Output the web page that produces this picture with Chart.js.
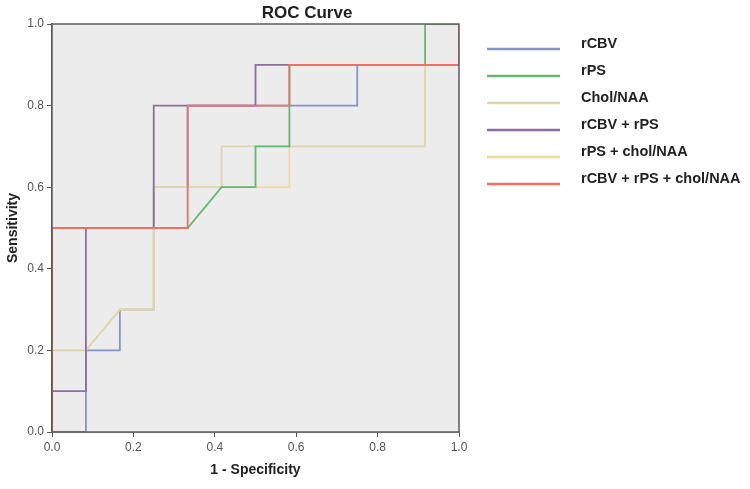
<!DOCTYPE html>
<html>
<head>
<meta charset="utf-8">
<script src="https://cdn.jsdelivr.net/npm/chart.js@4/dist/chart.umd.min.js"></script>
<style>
  html, body { margin: 0; padding: 0; background: #fff; }
  #wrap { width: 750px; height: 489px; }
</style>
</head>
<body>
<div id="wrap"><canvas id="roc" width="750" height="489"></canvas></div>
<script>
// series labels and colours
const names = ['rCBV', 'rPS', 'Chol/NAA', 'rCBV + rPS', 'rPS + chol/NAA', 'rCBV + rPS + chol/NAA']
const colors = ['#8593c8', '#66b772', '#ddd5b4', '#8c6d9f', '#efdc92', '#ef6f62']

// step points (1 - specificity, sensitivity)
const rcbvX = [0, 0.0833, 0.0833, 0.1667, 0.1667, 0.25, 0.25, 0.3333, 0.3333, 0.75, 0.75, 1, 1]
const rcbvY = [0, 0, 0.2, 0.2, 0.3, 0.3, 0.6, 0.6, 0.8, 0.8, 0.9, 0.9, 1]
const rpsX = [0, 0, 0.3333, 0.4167, 0.5, 0.5, 0.5833, 0.5833, 0.9167, 0.9167, 1]
const rpsY = [0, 0.5, 0.5, 0.6, 0.6, 0.7, 0.7, 0.9, 0.9, 1, 1]
const cholX = [0, 0, 0.0833, 0.1667, 0.25, 0.25, 0.4167, 0.4167, 0.9167, 0.9167, 1, 1]
const cholY = [0, 0.2, 0.2, 0.3, 0.3, 0.6, 0.6, 0.7, 0.7, 0.9, 0.9, 1]
const cbvPsX = [0, 0, 0.0833, 0.0833, 0.25, 0.25, 0.5, 0.5, 1, 1]
const cbvPsY = [0, 0.1, 0.1, 0.5, 0.5, 0.8, 0.8, 0.9, 0.9, 1]
const psCholX = [0, 0, 0.0833, 0.1667, 0.25, 0.25, 0.5833, 0.5833, 0.9167, 0.9167, 1, 1]
const psCholY = [0, 0.2, 0.2, 0.3, 0.3, 0.6, 0.6, 0.7, 0.7, 0.9, 0.9, 1]
const allX = [0, 0, 0.3333, 0.3333, 0.5833, 0.5833, 1, 1]
const allY = [0, 0.5, 0.5, 0.8, 0.8, 0.9, 0.9, 1]

const xTicks = [0, 0.2, 0.4, 0.6, 0.8, 1]
const yTicks = [0, 0.2, 0.4, 0.6, 0.8, 1]

const seriesX = [rcbvX, rpsX, cholX, cbvPsX, psCholX, allX]
const seriesY = [rcbvY, rpsY, cholY, cbvPsY, psCholY, allY]

// draw order: green sits above the pale lines, red on top of all
const drawOrder = [6, 2, 4, 3, 5, 1]

const datasets = names.map((name, i) => ({
  label: name,
  data: seriesX[i].map((x, j) => ({ x: x, y: seriesY[i][j] })),
  borderColor: colors[i],
  borderWidth: 1.8,
  showLine: true,
  pointRadius: 0,
  order: drawOrder[i]
}))

const frame = {
  id: 'frame',
  beforeDatasetsDraw (chart) {
    const { ctx, chartArea: a } = chart
    ctx.save()
    ctx.fillStyle = '#ececec'
    ctx.fillRect(a.left, a.top, a.right - a.left, a.bottom - a.top)
    ctx.restore()
  },
  afterDraw (chart) {
    const { ctx, chartArea: a } = chart
    ctx.save()
    ctx.strokeStyle = '#5c5c5c'
    ctx.lineWidth = 1.5
    ctx.strokeRect(a.left, a.top, a.right - a.left, a.bottom - a.top)

    ctx.fillStyle = '#222'
    ctx.font = 'bold 17px "Liberation Sans", Arial, sans-serif'
    ctx.textAlign = 'center'
    ctx.textBaseline = 'middle'
    ctx.fillText('ROC Curve', 307, 13)

    // legend
    ctx.font = 'bold 14.5px "Liberation Sans", Arial, sans-serif'
    ctx.textAlign = 'left'
    names.forEach((name, i) => {
      const y = 49 + i * 27
      ctx.strokeStyle = colors[i]
      ctx.lineWidth = 2.5
      ctx.beginPath()
      ctx.moveTo(487, y)
      ctx.lineTo(560, y)
      ctx.stroke()
      ctx.fillStyle = '#222'
      ctx.fillText(name, 581, y - 5)
    })
    ctx.restore()
  }
}

new Chart(document.getElementById('roc'), {
  type: 'scatter',
  data: { datasets: datasets },
  options: {
    animation: false,
    responsive: false,
    layout: { padding: { top: 24, right: 291, left: 0, bottom: 0 } },
    plugins: {
      legend: { display: false },
      tooltip: { enabled: false }
    },
    scales: {
      x: {
        type: 'linear',
        min: 0,
        max: 1,
        afterFit (scale) { scale.height = 57 },
        afterBuildTicks (scale) { scale.ticks = xTicks.map(v => ({ value: v })) },
        ticks: {
          color: '#555',
          font: { size: 12, family: 'Liberation Sans' },
          padding: 3,
          maxRotation: 0,
          callback: v => v.toFixed(1)
        },
        grid: { drawOnChartArea: false, drawTicks: true, tickLength: 5, tickColor: '#555' },
        border: { color: '#555', width: 1.5 },
        title: {
          display: true,
          text: '1 - Specificity',
          color: '#222',
          font: { size: 14, weight: 'bold', family: 'Liberation Sans' },
          padding: { top: 0, bottom: 10 }
        }
      },
      y: {
        type: 'linear',
        min: 0,
        max: 1,
        afterFit (scale) { scale.width = 52 },
        afterBuildTicks (scale) { scale.ticks = yTicks.map(v => ({ value: v })) },
        ticks: {
          color: '#555',
          font: { size: 12, family: 'Liberation Sans' },
          padding: 3,
          callback: v => v.toFixed(1)
        },
        grid: { drawOnChartArea: false, drawTicks: true, tickLength: 5, tickColor: '#555' },
        border: { color: '#555', width: 1.5 },
        title: {
          display: true,
          text: 'Sensitivity',
          color: '#222',
          font: { size: 14, weight: 'bold', family: 'Liberation Sans' },
          padding: { top: 5, bottom: 0 }
        }
      }
    }
  },
  plugins: [frame]
})
</script>
</body>
</html>
